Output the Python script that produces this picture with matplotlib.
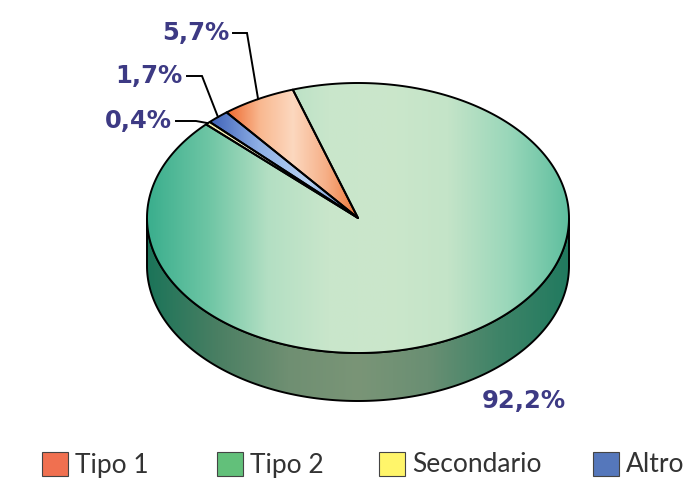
import matplotlib
matplotlib.use("Agg")
import matplotlib.pyplot as plt
import numpy as np
from matplotlib.patches import Polygon, Rectangle
from matplotlib.colors import LinearSegmentedColormap

# quote per tipo
labels = ["Tipo 1", "Tipo 2", "Secondario", "Altro"]
shares = [5.7, 92.2, 0.4, 1.7]
pct_text = ["5,7%", "92,2%", "0,4%", "1,7%"]
legend_colors = ["#f07050", "#62c07a", "#fff56a", "#5577bb"]

# ordine delle fette in senso antiorario partendo da start_angle
draw_order = [0, 3, 2, 1]
start_angle = 108.0

# sfumature orizzontali di ogni fetta (faccia superiore)
shades = {
    0: ["#ee6a30", "#f9b890", "#fcd8bf", "#f6b088", "#ef7535"],
    1: ["#3aae8d", "#6dc5a4", "#b3dfc3", "#c9e6cb", "#cbe7cb", "#c4e4c8",
        "#9ad7ba", "#5fbf9f"],
    2: ["#f3eca8", "#fffde8", "#fbf6c8"],
    3: ["#3f62b8", "#8fb0e6", "#b8d2f2", "#4a70c0"],
}
side_shade = ["#1b7459", "#4a7f63", "#6f8f72", "#7a9577", "#6a8f73",
              "#3f8468", "#217a5f"]

# geometria della torta (pixel)
cx, cy, a, b, depth = 358, 218, 211, 135, 48


def ell(t_deg, dy=0):
    t = np.radians(t_deg)
    return np.column_stack([cx + a * np.cos(t), cy - b * np.sin(t) + dy])


def grad_fill(ax, verts, colors, z):
    cmap = LinearSegmentedColormap.from_list("g", colors)
    x0, x1 = verts[:, 0].min(), verts[:, 0].max()
    y0, y1 = verts[:, 1].min(), verts[:, 1].max()
    img = ax.imshow(np.linspace(0, 1, 256)[None, :], cmap=cmap, aspect="auto",
                    extent=(x0, x1, y1, y0), zorder=z, interpolation="bilinear")
    clip = Polygon(verts, closed=True, facecolor="none", edgecolor="none",
                   transform=ax.transData)
    ax.add_patch(clip)
    img.set_clip_path(clip)


fig = plt.figure(figsize=(6.83, 4.79), dpi=100)
ax = fig.add_axes([0, 0, 1, 1])

# fianco
t = np.linspace(180, 360, 200)
side = np.vstack([ell(t), ell(t[::-1], depth)])
grad_fill(ax, side, side_shade, 1)
ax.add_patch(Polygon(side, closed=True, facecolor="none", edgecolor="black",
                     lw=1.4, zorder=2))

# faccia superiore
angle = start_angle
mids = {}
for i in draw_order:
    span = shares[i] / sum(shares) * 360
    arc = ell(np.linspace(angle, angle + span, max(int(span * 2), 4)))
    verts = np.vstack([[cx, cy], arc])
    grad_fill(ax, verts, shades[i], 3)
    ax.add_patch(Polygon(verts, closed=True, facecolor="none", edgecolor="black",
                         lw=1.4, zorder=4, joinstyle="round"))
    mids[i] = ell(np.array([angle + span / 2]))[0]
    angle += span

# etichette con linee guida
lab_color = "#3d3a84"
lab_font = dict(fontsize=17.5, fontweight="bold", family="DejaVu Sans",
                color=lab_color, zorder=6)
label_pos = {0: (229, 33, 247), 3: (183, 76, 202), 2: (172, 121, 196)}
for i, (tx, ty, kx) in label_pos.items():
    ax.text(tx, ty, pct_text[i], ha="right", va="center", **lab_font)
    mx, my = mids[i]
    ax.plot([tx + 4, kx, mx], [ty, ty, my], color="black", lw=1.4, zorder=5,
            solid_joinstyle="miter")
ax.text(524, 401, pct_text[1], ha="center", va="center", **lab_font)

# legenda
leg_x = [42, 217, 379, 593]
for i, lx in enumerate(leg_x):
    ax.add_patch(Rectangle((lx, 452), 26, 24, facecolor=legend_colors[i],
                           edgecolor="#444444", lw=0.8, zorder=6))
    ax.text(lx + 33, 465, labels[i], ha="left", va="center", fontsize=19,
            family=["Lato", "DejaVu Sans"], color="#333333", zorder=6)

ax.set_xlim(0, 683)
ax.set_ylim(479, 0)
ax.axis("off")
fig.savefig("out.png", dpi=100, facecolor="white")
